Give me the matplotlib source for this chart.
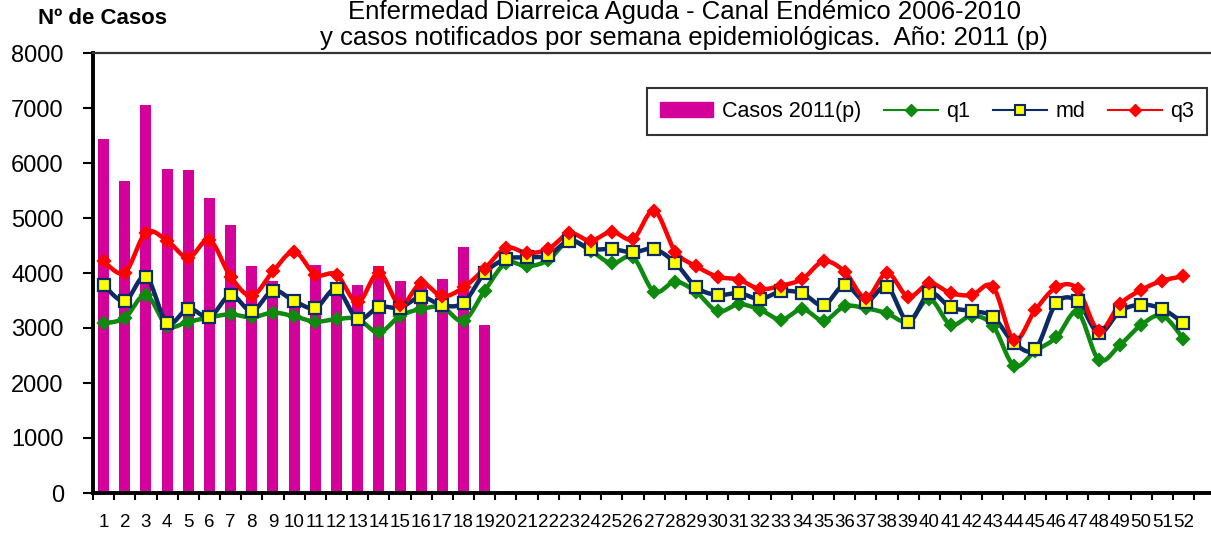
import numpy as np
import matplotlib
matplotlib.use("Agg")
import matplotlib.pyplot as plt
from matplotlib.lines import Line2D
from matplotlib.patches import Patch

plt.rcParams['font.family'] = ['Liberation Sans', 'DejaVu Sans']

# semanas epidemiológicas
semanas = list(range(1, 53))

# casos notificados 2011 (p), semanas 1-19
casos_2011 = [6440, 5680, 7060, 5900, 5870, 5360, 4880, 4120, 3860, 3390,
              4150, 3700, 3790, 4120, 3860, 3750, 3900, 4480, 3060]

# canal endémico 2006-2010
q1 = [3085, 3182, 3600, 3042, 3115, 3194, 3248, 3194, 3279, 3212,
      3115, 3164, 3164, 2921, 3218, 3345, 3376, 3133, 3679, 4182,
      4121, 4236, 4588, 4406, 4176, 4285, 3661, 3842, 3648, 3303,
      3430, 3333, 3152, 3345, 3133, 3394, 3358, 3267, 3115, 3527,
      3061, 3224, 3042, 2315, 2580, 2830, 3285, 2424, 2691, 3055,
      3224, 2800]
md = [3782, 3491, 3933, 3091, 3352, 3200, 3600, 3309, 3679, 3491,
      3364, 3709, 3164, 3382, 3370, 3564, 3412, 3461, 4000, 4255,
      4285, 4321, 4588, 4436, 4436, 4376, 4436, 4182, 3739, 3600,
      3636, 3527, 3667, 3630, 3412, 3782, 3479, 3751, 3115, 3636,
      3376, 3309, 3206, 2727, 2618, 3455, 3485, 2909, 3303, 3424,
      3345, 3091]
q3 = [4212, 4006, 4733, 4588, 4279, 4600, 3933, 3588, 4030, 4388,
      3970, 3970, 3467, 4006, 3418, 3812, 3576, 3739, 4080, 4455,
      4364, 4436, 4721, 4588, 4752, 4618, 5133, 4388, 4121, 3933,
      3879, 3709, 3770, 3891, 4212, 4024, 3545, 4000, 3570, 3812,
      3636, 3600, 3751, 2782, 3327, 3739, 3709, 2952, 3436, 3691,
      3861, 3939]

C_BAR = '#D4009A'
C_Q1 = '#0E8A0E'
C_MD = '#0C2A66'
C_Q3 = '#FF0000'


def suavizar(x, y, n=12):
    # curva tipo Excel (Catmull-Rom) solo para el trazo
    x = np.asarray(x, float)
    y = np.asarray(y, float)
    px = np.concatenate([[x[0]], x, [x[-1]]])
    py = np.concatenate([[y[0]], y, [y[-1]]])
    xs, ys = [], []
    t = np.linspace(0, 1, n, endpoint=False)
    for i in range(1, len(px) - 2):
        p0, p1, p2, p3 = (np.array([px[j], py[j]]) for j in (i - 1, i, i + 1, i + 2))
        c1 = p1 + (p2 - p0) / 6
        c2 = p2 - (p3 - p1) / 6
        b = ((1 - t) ** 3)[:, None] * p1 + (3 * (1 - t) ** 2 * t)[:, None] * c1 \
            + (3 * (1 - t) * t ** 2)[:, None] * c2 + (t ** 3)[:, None] * p2
        xs.extend(b[:, 0])
        ys.extend(b[:, 1])
    xs.append(x[-1])
    ys.append(y[-1])
    return xs, ys


fig = plt.figure(figsize=(12.11, 5.35), dpi=100)
ax = fig.add_axes([93 / 1211, 42 / 535, 1118 / 1211, 440 / 535])

ax.bar(semanas[:len(casos_2011)], casos_2011, width=0.52, color=C_BAR, zorder=1)

for serie, col, mk, ms, mfc in [(q1, C_Q1, 'D', 6, C_Q1),
                                (md, C_MD, 's', 8, '#FFFF00'),
                                (q3, C_Q3, 'D', 6, C_Q3)]:
    sx, sy = suavizar(semanas, serie)
    ax.plot(sx, sy, color=col, lw=3.2, zorder=2, solid_capstyle='round')
    ax.plot(semanas, serie, ls='none', marker=mk, ms=ms, mfc=mfc,
            mec=col, mew=1.6, zorder=3)

ax.set_ylim(0, 8000)
ax.set_xlim(0.5, 53.3)
ax.set_yticks(range(0, 8001, 1000))
ax.set_xticks(semanas)
ax.set_xticklabels([str(s) for s in semanas], fontsize=13.5)
ax.set_xticks(np.arange(0.5, 53, 1), minor=True)
ax.tick_params(axis='x', which='major', length=0, pad=15)
ax.tick_params(axis='x', which='minor', length=5, width=1.5, direction='out')
ax.tick_params(axis='y', length=7, width=1.5, direction='out', pad=14, labelsize=17)

for s in ['left', 'bottom']:
    ax.spines[s].set_linewidth(2.8)
    ax.spines[s].set_color('black')
ax.spines['right'].set_visible(False)
ax.spines['top'].set_color('#333333')
ax.spines['top'].set_linewidth(1.6)

handles = [Patch(color=C_BAR, label='Casos 2011(p)'),
           Line2D([], [], color=C_Q1, lw=1.5, marker='D', ms=6, label='q1'),
           Line2D([], [], color=C_MD, lw=1.5, marker='s', ms=7, mfc='#FFFF00',
                  mec=C_MD, mew=1.5, label='md'),
           Line2D([], [], color=C_Q3, lw=1.5, marker='D', ms=6, label='q3')]
leg = ax.legend(handles=handles, loc='upper right', bbox_to_anchor=(0.9964, 0.92),
                ncol=4, fontsize=15.5, frameon=True, fancybox=False,
                borderaxespad=0, handlelength=2.5, handleheight=0.7,
                columnspacing=1.05, handletextpad=0.4, borderpad=0.6)
leg.get_frame().set_edgecolor('black')
leg.get_frame().set_linewidth(1.5)

fig.text(684 / 1211, 1 - 12 / 535, 'Enfermedad Diarreica Aguda - Canal Endémico 2006-2010',
         ha='center', va='center', fontsize=18.5)
fig.text(684 / 1211, 1 - 38 / 535, 'y casos notificados por semana epidemiológicas.  Año: 2011 (p)',
         ha='center', va='center', fontsize=18.5)
fig.text(102 / 1211, 1 - 18 / 535, 'Nº de Casos', ha='center', va='center',
         fontsize=16, fontweight='bold')

fig.savefig('out.png', dpi=100)
